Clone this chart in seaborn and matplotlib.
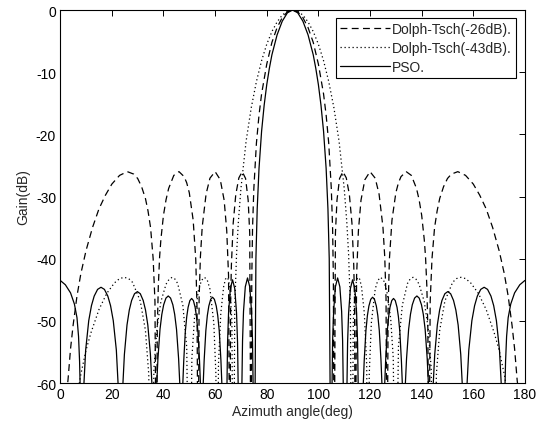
import matplotlib
matplotlib.use("Agg")
import matplotlib.pyplot as plt
import seaborn as sns

# values (angle in deg, gain in dB)
dash_deg = [0, 2.0, 3.0, 4.0, 5.0, 6.5, 8.0, 10.0, 12.5, 15.0, 17.5, 20.0, 23.0, 26.0, 28.5, 30.0, 31.5, 33.0,
            34.0, 35.0, 36.0, 36.7, 37.2,
            37.6, 38.0, 38.5, 39.0, 40.0, 41.0, 42.0, 44.0, 46.0, 48.0, 49.0, 50.0, 51.5, 52.5, 53.0, 53.4,
            53.8, 54.3, 55.0, 56.5, 58.0, 60.0, 62.0, 63.5, 64.5, 65.2, 65.7,
            66.0, 66.3, 67.0, 68.0, 69.2, 70.5, 71.8, 72.8, 73.4, 73.9,
            74.2, 74.5, 75.0, 76.0, 77.0, 78.0, 80.0, 82.0, 84.0, 86.0, 88.0, 90.0,
            92.0, 94.0, 96.0, 98.0, 100.0, 102.0, 103.0, 104.0, 105.0, 105.5, 105.8, 106.1,
            106.6, 107.2, 108.2, 109.5, 110.8, 112.0, 113.0, 113.7, 114.0, 114.3,
            114.8, 115.5, 116.5, 118.0, 120.0, 122.0, 123.5, 125.0, 125.7, 126.2, 126.6,
            127.0, 127.5, 128.5, 130.0, 131.0, 132.0, 134.0, 136.0, 138.0, 139.0, 140.0, 141.0, 141.5, 142.0, 142.4, 142.8,
            143.3, 144.0, 145.0, 146.0, 147.0, 148.5, 150.0, 151.5, 154.0, 157.0, 160.0, 162.5, 165.0, 167.5,
            170.0, 172.0, 173.5, 175.0, 176.0, 177.0, 178.0, 180.0]
dash_db = [-80, -63.0, -59.6, -54.5, -50.7, -46.0, -42.4, -38.7, -35.0, -32.0, -29.8, -28.0, -26.6, -26.0, -26.4,
           -27.1, -28.4, -30.3, -32.3, -35.0, -40.0, -46.9, -80,
           -51.4, -44.4, -39.7, -36.9, -33.0, -30.5, -28.7, -26.6, -26.0, -26.8, -27.8, -29.4, -33.8, -40.1, -48.1, -80,
           -46.4, -39.7, -34.9, -29.6, -27.05, -26.0, -27.3, -30.6, -35.5, -42.7, -80,
           -47.0, -41.1, -34.3, -29.7, -27.0, -26.0, -27.1, -30.6, -35.9, -80,
           -43.2, -35.0, -28.7, -21.4, -16.9, -13.5, -8.7, -5.2, -2.83, -1.22, -0.29, 0.0,
           -0.29, -1.22, -2.83, -5.2, -8.7, -13.5, -16.9, -21.4, -28.7, -35.0, -43.2, -80,
           -35.9, -30.6, -27.1, -26.0, -27.0, -29.7, -34.3, -41.1, -47.0, -80,
           -42.7, -35.5, -30.6, -27.3, -26.0, -27.05, -29.6, -34.9, -39.7, -46.4, -80,
           -48.1, -40.1, -33.8, -29.4, -27.8, -26.8, -26.0, -26.6, -28.7, -30.5, -33.0, -36.9, -39.7, -44.4, -51.4, -80,
           -46.9, -40.0, -35.0, -32.3, -30.3, -28.4, -27.1, -26.4, -26.0, -26.6, -28.0, -29.8, -32.0, -35.0,
           -38.7, -42.4, -46.0, -50.7, -54.5, -59.6, -63.0, -80]

dot_deg = [0, 5.0, 6.5, 8.0, 10.0, 12.0, 15.0, 18.0, 21.0, 23.0, 24.8, 26.5, 28.0, 31.0, 33.0, 34.3, 35.3,
           36.3, 37.5, 39.0, 41.0, 42.2, 43.35, 44.5, 45.5, 47.5, 49.0, 50.1,
           51.0, 52.0, 53.5, 54.7, 55.9, 57.0, 58.0, 59.5, 60.3, 60.75,
           61.3, 62.2, 63.3, 64.0, 64.6, 65.2, 65.8, 66.5, 67.06,
           67.6, 68.3, 69.0, 70.0, 72.0, 74.0, 76.0, 78.0, 80.0, 82.0, 84.0, 86.0, 88.0, 90.0,
           92.0, 94.0, 96.0, 98.0, 100.0, 102.0, 104.0, 106.0, 108.0, 110.0, 111.0, 111.7, 112.4,
           112.94, 113.5, 114.2, 114.8, 115.4, 116.0, 116.7, 117.8, 118.7, 119.25,
           119.7, 120.5, 122.0, 123.0, 124.1, 125.3, 126.5, 128.0, 129.0, 129.9,
           131.0, 132.5, 134.5, 135.5, 136.65, 137.8, 139.0, 141.0, 142.5, 143.7, 144.7,
           145.7, 147.0, 149.0, 152.0, 153.5, 155.2, 157.0, 159.0, 162.0, 165.0, 168.0, 170.0, 172.0, 173.5, 175.0, 180.0]
dot_db = [-90, -66.8, -62.2, -58.6, -54.7, -51.8, -48.2, -45.6, -43.9, -43.2, -43.0, -43.2, -43.8, -46.8, -51.5, -58.6, -90,
          -57.7, -51.1, -46.9, -44.1, -43.3, -43.0, -43.3, -44.0, -47.5, -54.2, -90,
          -56.0, -49.6, -45.2, -43.5, -43.0, -43.5, -44.9, -50.4, -58.6, -90,
          -57.0, -48.8, -44.5, -43.3, -43.0, -43.4, -45.2, -50.2, -90,
          -47.9, -39.3, -34.1, -28.7, -21.1, -15.7, -11.5, -8.15, -5.5, -3.46, -1.92, -0.82, -0.2, 0.0,
          -0.2, -0.82, -1.92, -3.46, -5.5, -8.15, -11.5, -15.7, -21.1, -28.7, -34.1, -39.3, -47.9,
          -90, -50.2, -45.2, -43.4, -43.0, -43.3, -44.5, -48.8, -57.0, -90,
          -58.6, -50.4, -44.9, -43.5, -43.0, -43.5, -45.2, -49.6, -56.0, -90,
          -54.2, -47.5, -44.0, -43.3, -43.0, -43.3, -44.1, -46.9, -51.1, -57.7, -90,
          -58.6, -51.5, -46.8, -43.8, -43.2, -43.0, -43.2, -43.9, -45.6, -48.2, -51.8, -54.7, -58.6, -62.2, -66.8, -90]

pso_deg = [0, 2.0, 4.0, 5.5, 6.5, 7.1, 7.5, 7.7, 8.45,
           9.2, 9.86, 11.05, 12.1, 13.16, 14.48, 15.8, 17.12, 18.44, 19.5, 20.55, 21.74, 22.4, 23.35,
           24.3, 24.86, 25.87, 26.76, 27.66, 28.78, 29.9, 31.02, 32.14, 33.04, 33.93, 34.94, 35.5, 36.45,
           37.4, 37.85, 38.65, 39.36, 40.07, 40.96, 41.85, 42.74, 43.63, 44.34, 45.05, 45.86, 46.3, 46.9,
           47.5, 47.84, 48.45, 49.0, 49.54, 50.22, 50.9, 51.58, 52.26, 52.8, 53.35, 53.96, 54.3, 54.85,
           55.4, 55.76, 56.41, 56.98, 57.56, 58.28, 59.0, 59.72, 60.44, 61.02, 61.59, 62.24, 62.6, 63.6,
           64.6, 64.82, 65.2, 65.89, 66.75, 67.61, 68.3, 68.69, 68.9, 69.65,
           70.4, 70.62, 71.0, 71.69, 72.55, 73.41, 74.1, 74.49, 74.7, 75.1,
           75.5, 75.8, 76.3, 77.0, 78.0, 79.0, 80.0, 81.0, 82.0, 84.0, 86.0, 88.0, 90.0,
           92.0, 94.0, 96.0, 98.0, 99.0, 100.0, 101.0, 102.0, 103.0, 103.7, 104.2, 104.5, 104.9,
           105.3, 105.51, 105.9, 106.59, 107.45, 108.31, 109.0, 109.38, 109.6, 110.35,
           111.1, 111.31, 111.7, 112.39, 113.25, 114.11, 114.8, 115.18, 115.4, 116.4,
           117.4, 117.76, 118.41, 118.98, 119.56, 120.28, 121.0, 121.72, 122.44, 123.02, 123.59, 124.24, 124.6, 125.15,
           125.7, 126.04, 126.65, 127.2, 127.74, 128.42, 129.1, 129.78, 130.46, 131.0, 131.55, 132.16, 132.5, 133.1,
           133.7, 134.14, 134.95, 135.66, 136.37, 137.26, 138.15, 139.04, 139.93, 140.64, 141.35, 142.15, 142.6, 143.55,
           144.5, 145.06, 146.07, 146.96, 147.86, 148.98, 150.1, 151.22, 152.34, 153.24, 154.13, 155.14, 155.7, 156.65,
           157.6, 158.26, 159.45, 160.5, 161.56, 162.88, 164.2, 165.52, 166.84, 167.9, 168.95, 170.14, 170.8, 171.55,
           172.3, 172.5, 172.9, 173.5, 174.5, 176.0, 178.0, 180.0]
pso_db = [-43.5, -44.2, -45.5, -47.3, -49.5, -52.5, -56.5, -60, -80,
          -60, -54.7, -49.97, -47.56, -46.02, -44.94, -44.6, -44.94, -46.02, -47.56, -49.97, -54.7, -60, -80,
          -60, -55.4, -50.67, -48.26, -46.72, -45.64, -45.3, -45.64, -46.72, -48.26, -50.67, -55.4, -60, -80,
          -60, -56.1, -51.37, -48.96, -47.42, -46.34, -46.0, -46.34, -47.42, -48.96, -51.37, -56.1, -60, -80,
          -60, -56.5, -51.77, -49.36, -47.82, -46.74, -46.4, -46.74, -47.82, -49.36, -51.77, -56.5, -60, -80,
          -60, -56.3, -51.57, -49.16, -47.62, -46.54, -46.2, -46.54, -47.62, -49.16, -51.57, -56.3, -60, -80,
          -60, -53.5, -48.77, -44.82, -43.4, -44.82, -48.77, -53.5, -60, -80,
          -60, -53.2, -48.47, -44.52, -43.1, -44.52, -48.47, -53.2, -60, -80,
          -60, -40.0, -32.0, -25.5, -19.5, -15.3, -12.0, -9.4, -7.2, -4.0, -1.8, -0.45, 0.0,
          -0.45, -1.8, -4.0, -7.2, -9.4, -12.0, -15.3, -19.5, -25.5, -32.0, -40.0, -60, -80,
          -60, -53.2, -48.47, -44.52, -43.1, -44.52, -48.47, -53.2, -60, -80,
          -60, -53.5, -48.77, -44.82, -43.4, -44.82, -48.77, -53.5, -60, -80,
          -60, -56.3, -51.57, -49.16, -47.62, -46.54, -46.2, -46.54, -47.62, -49.16, -51.57, -56.3, -60, -80,
          -60, -56.5, -51.77, -49.36, -47.82, -46.74, -46.4, -46.74, -47.82, -49.36, -51.77, -56.5, -60, -80,
          -60, -56.1, -51.37, -48.96, -47.42, -46.34, -46.0, -46.34, -47.42, -48.96, -51.37, -56.1, -60, -80,
          -60, -55.4, -50.67, -48.26, -46.72, -45.64, -45.3, -45.64, -46.72, -48.26, -50.67, -55.4, -60, -80,
          -60, -54.7, -49.97, -47.56, -46.02, -44.94, -44.6, -44.94, -46.02, -47.56, -49.97, -54.7, -60, -80,
          -60, -56.5, -52.5, -49.5, -47.3, -45.5, -44.2, -43.5]

labels = ["Dolph-Tsch(-26dB).", "Dolph-Tsch(-43dB).", "PSO."]
x_ticks = list(range(0, 181, 20))
y_ticks = list(range(-60, 1, 10))

sns.set_style("white")
plt.rcParams['font.family'] = ['Liberation Sans', 'DejaVu Sans']
plt.rcParams['font.size'] = 10
plt.rcParams['axes.unicode_minus'] = False

fig = plt.figure(figsize=(5.4, 4.27), dpi=100)
ax = fig.add_axes([0.1115, 0.1007, 0.8606, 0.8735])

sns.lineplot(x=dash_deg, y=dash_db, ax=ax, sort=False, estimator=None, color='black',
             lw=0.9, linestyle=(0, (5.5, 3.5)), label=labels[0])
sns.lineplot(x=dot_deg, y=dot_db, ax=ax, sort=False, estimator=None, color='black',
             lw=0.9, linestyle=(0, (1, 2.2)), label=labels[1])
sns.lineplot(x=pso_deg, y=pso_db, ax=ax, sort=False, estimator=None, color='black',
             lw=0.9, linestyle='-', label=labels[2])

ax.set_xlim(0, 180)
ax.set_ylim(-60, 0)
ax.set_xticks(x_ticks)
ax.set_yticks(y_ticks)
ax.tick_params(direction='in', top=True, right=True, length=4, width=0.7,
               labelsize=10, colors='black', pad=3)
for s in ax.spines.values():
    s.set_color('black')
    s.set_linewidth(0.8)
ax.set_xlabel("Azimuth angle(deg)", fontsize=10, labelpad=2)
ax.set_ylabel("Gain(dB)", fontsize=10, labelpad=4)

leg = ax.legend(loc='upper right', bbox_to_anchor=(0.981, 0.979), borderaxespad=0,
                fancybox=False, framealpha=1, edgecolor='black', fontsize=10,
                handlelength=3.6, handletextpad=0.15, labelspacing=0.35, borderpad=0.3)
leg.get_frame().set_linewidth(0.8)

fig.savefig("out.png", dpi=100)
